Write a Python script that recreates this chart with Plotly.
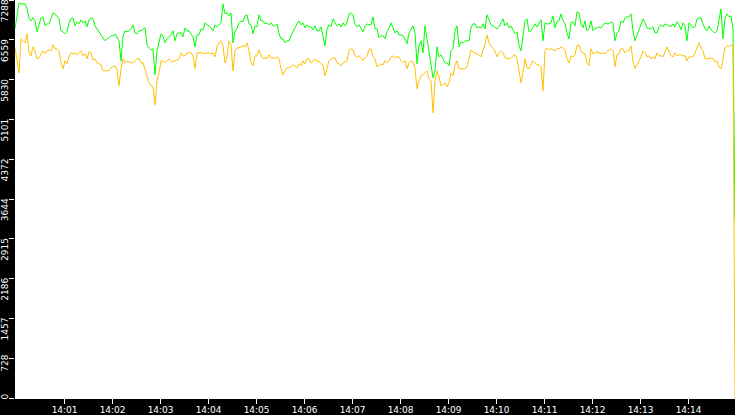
import pandas as pd
import plotly.graph_objects as go

# samples every 2.5 s, 13:59:58 -> 14:14:58
start_time = "2024-01-01 13:59:58"
step = "2500ms"

green_vals = [
    6762, 7054, 7237, 7219, 7219, 7219, 7128, 6963, 6908, 6963, 6908, 6707, 6835, 6963, 6981, 6816,
    6853, 6853, 6945, 7054, 7036, 7000, 6945, 6725, 6707, 6670, 6707, 6871, 6945, 6963, 6816, 6890,
    6853, 6926, 6871, 6908, 6798, 6926, 6963, 6945, 6816, 6762, 6707, 6652, 6597, 6542, 6579, 6597,
    6634, 6634, 6670, 6597, 6542, 6176, 6634, 6725, 6707, 6725, 6762, 6835, 6688, 6670, 6725, 6725,
    6762, 6780, 6469, 6414, 6377, 6396, 5920, 6359, 6505, 6670, 6634, 6505, 6579, 6615, 6652, 6725,
    6542, 6670, 6688, 6688, 6615, 6780, 6725, 6725, 6670, 6615, 6432, 6652, 6652, 6762, 6743, 6871,
    6835, 6816, 6780, 6725, 6835, 6798, 6835, 6871, 7219, 7036, 7054, 7000, 7054, 6505, 6725, 6762,
    6871, 6908, 6890, 7000, 7018, 6853, 6835, 6670, 6816, 6798, 7018, 6908, 6908, 6853, 6871, 6835,
    6871, 6816, 6816, 6853, 6670, 6579, 6579, 6505, 6542, 6542, 6634, 6725, 6780, 6853, 6908, 6835,
    6871, 6780, 6835, 6798, 6798, 6743, 6816, 6725, 6725, 6798, 6634, 6451, 6762, 6835, 6798, 6945,
    6871, 6816, 6853, 6798, 6871, 6816, 6871, 7036, 7054, 7018, 6853, 6798, 6835, 6762, 6707, 6816,
    6853, 6835, 6835, 6981, 6762, 6762, 6597, 6634, 6634, 6579, 6707, 6780, 6871, 6780, 6688, 6725,
    6652, 6652, 6634, 6579, 6487, 6688, 6762, 6816, 6688, 6121, 6451, 6542, 6322, 6816, 6579, 6359,
    6139, 5865, 5993, 6432, 6249, 6286, 6213, 6139, 6139, 6085, 6359, 6396, 6725, 6816, 6432, 6524,
    6505, 6542, 6542, 6542, 6780, 6853, 6853, 6780, 6798, 6780, 6853, 6762, 7018, 6908, 6835, 6816,
    6780, 6762, 6798, 6871, 6945, 6816, 6871, 6780, 6816, 6743, 6670, 6707, 6451, 6359, 6634, 6908,
    6945, 6707, 6725, 6798, 6853, 6798, 6853, 6926, 6542, 6871, 6853, 6853, 6871, 7000, 6780, 6890,
    6908, 7036, 6908, 6853, 6688, 6579, 6871, 6890, 6816, 7073, 7054, 6853, 6780, 6908, 6725, 6762,
    6908, 6725, 6762, 6780, 6798, 6780, 6835, 6871, 6853, 6853, 6890, 6871, 6542, 6688, 6725, 6908,
    6871, 6963, 6981, 6981, 7036, 6725, 6542, 6652, 6762, 6871, 6945, 6871, 6780, 6762, 6762, 6798,
    6688, 6688, 6798, 6835, 6798, 6853, 6835, 6816, 6798, 6853, 6798, 6890, 6835, 6743, 6871, 6816,
    6542, 6871, 6835, 6780, 6798, 6945, 6963, 6963, 6853, 6762, 6725, 6816, 6743, 6707, 6688, 6725,
    6908, 7128, 6579, 6945, 7036, 6981, 7000, 6762, 3211,
]

orange_vals = [
    6414, 6176, 5956, 6579, 6542, 6505, 6670, 6322, 6268, 6432, 6359, 6213, 6231, 6286, 6359, 6304,
    6359, 6377, 6359, 6469, 6396, 6396, 6359, 6139, 6030, 6176, 6121, 6249, 6322, 6304, 6322, 6286,
    6322, 6359, 6268, 6304, 6213, 6341, 6322, 6194, 6213, 6139, 6121, 6103, 5993, 5993, 5993, 5993,
    6048, 6066, 6085, 6011, 5719, 6030, 6213, 6139, 6176, 6158, 6139, 6139, 6176, 6213, 6213, 6139,
    6139, 5993, 5902, 5773, 5719, 5700, 5371, 5810, 5956, 6176, 6176, 6139, 6176, 6213, 6176, 6158,
    6176, 6194, 6213, 6322, 6268, 6268, 6322, 6322, 6322, 6268, 6030, 6322, 6322, 6322, 6322, 6304,
    6322, 6322, 6304, 6322, 6249, 6432, 6505, 6542, 6451, 6139, 6249, 6542, 6469, 5993, 6359, 6414,
    6414, 6432, 6451, 6432, 6505, 6359, 6139, 6085, 6268, 6268, 6377, 6268, 6213, 6231, 6213, 6286,
    6231, 6231, 6213, 6249, 6213, 6030, 5920, 5993, 6048, 6048, 6066, 6103, 6066, 6048, 6121, 6085,
    6176, 6121, 6213, 6213, 6139, 6176, 6213, 6158, 6176, 6121, 6103, 5902, 6030, 6176, 6213, 6231,
    6231, 6139, 6121, 6085, 6139, 6158, 6176, 6377, 6396, 6377, 6268, 6231, 6268, 6231, 6176, 6231,
    6268, 6377, 6396, 6249, 6213, 6066, 6103, 6121, 6103, 6176, 6139, 6176, 6249, 6268, 6231, 6249,
    6249, 6176, 6139, 6176, 6030, 6139, 6176, 6158, 6030, 5664, 5810, 5902, 5920, 5956, 5993, 5847,
    5810, 5224, 5810, 5993, 5883, 5719, 5737, 5773, 5700, 5773, 5956, 5902, 6103, 6176, 6030, 6030,
    6030, 6030, 6066, 6213, 6377, 6341, 6322, 6304, 6286, 6249, 6359, 6487, 6652, 6505, 6451, 6396,
    6359, 6249, 6322, 6359, 6322, 6231, 6213, 6213, 6231, 6268, 6286, 6213, 5956, 5773, 5956, 6213,
    6048, 6030, 6103, 6176, 6139, 6103, 6103, 6066, 5627, 6359, 6414, 6377, 6396, 6377, 6359, 6396,
    6396, 6432, 6414, 6377, 6213, 6139, 6268, 6249, 6286, 6451, 6469, 6341, 6322, 6304, 6139, 6085,
    6396, 6304, 6322, 6341, 6322, 6304, 6322, 6304, 6341, 6377, 6396, 6359, 6066, 6286, 6304, 6396,
    6396, 6322, 6359, 6359, 6451, 6176, 6030, 6103, 6176, 6249, 6359, 6322, 6249, 6268, 6213, 6249,
    6213, 6322, 6268, 6268, 6249, 6359, 6432, 6341, 6268, 6249, 6322, 6268, 6286, 6286, 6268, 6268,
    6176, 6249, 6249, 6249, 6322, 6432, 6505, 6414, 6359, 6213, 6213, 6213, 6231, 6213, 6158, 6176,
    6066, 6030, 6213, 6414, 6451, 6432, 6469, 6469, 0,
]

y_ticks = [0, 728, 1457, 2186, 2915, 3644, 4372, 5101, 5830, 6559, 7288]
y_max = 7290

times = pd.date_range(start_time, periods=len(green_vals), freq=step)
x_ticks = pd.date_range("2024-01-01 14:01", "2024-01-01 14:14", freq="1min")

fig = go.Figure()
fig.add_trace(go.Scatter(x=times, y=green_vals, mode="lines", yaxis="y",
                         line=dict(color="#00ff00", width=1), showlegend=False))
fig.add_trace(go.Scatter(x=times, y=orange_vals, mode="lines", yaxis="y2",
                         line=dict(color="#ffc000", width=1), showlegend=False))

# rotated y labels hang below their tick; the "0" one sits on its tick
upper_ticks = y_ticks[1:]
upper_text = [("\u00a0" * 4 if len(str(v)) == 3 else "") + str(v) for v in upper_ticks]

axis_style = dict(
    range=[0, y_max], tickangle=-90,
    ticks="outside", ticklen=5, tickcolor="white", tickwidth=1,
    showline=False, showgrid=False, zeroline=False, automargin=False,
    ticklabelstandoff=-3, ticklabeloverflow="allow",
)

fig.update_layout(
    width=735, height=415,
    template="none",
    paper_bgcolor="black", plot_bgcolor="white",
    margin=dict(l=15, r=0, t=0, b=17),
    font=dict(family="DejaVu Sans", size=9, color="white"),
    xaxis=dict(
        range=[times[0], times[-1]],
        tickvals=x_ticks, ticktext=[t.strftime("%H:%M") for t in x_ticks],
        ticks="outside", ticklen=5, tickcolor="white", tickwidth=1,
        showline=True, linecolor="white", linewidth=1,
        showgrid=False, zeroline=False, automargin=False,
        ticklabelstandoff=-2, ticklabeloverflow="allow",
    ),
    yaxis=dict(tickvals=[y_ticks[0]], ticktext=[str(y_ticks[0])], **axis_style),
    yaxis2=dict(overlaying="y", side="left", tickvals=upper_ticks, ticktext=upper_text,
                ticklabelshift=12, **axis_style),
)

fig.write_html("out.html", config={"displayModeBar": False},
               post_script="document.body.style.margin='0';")
